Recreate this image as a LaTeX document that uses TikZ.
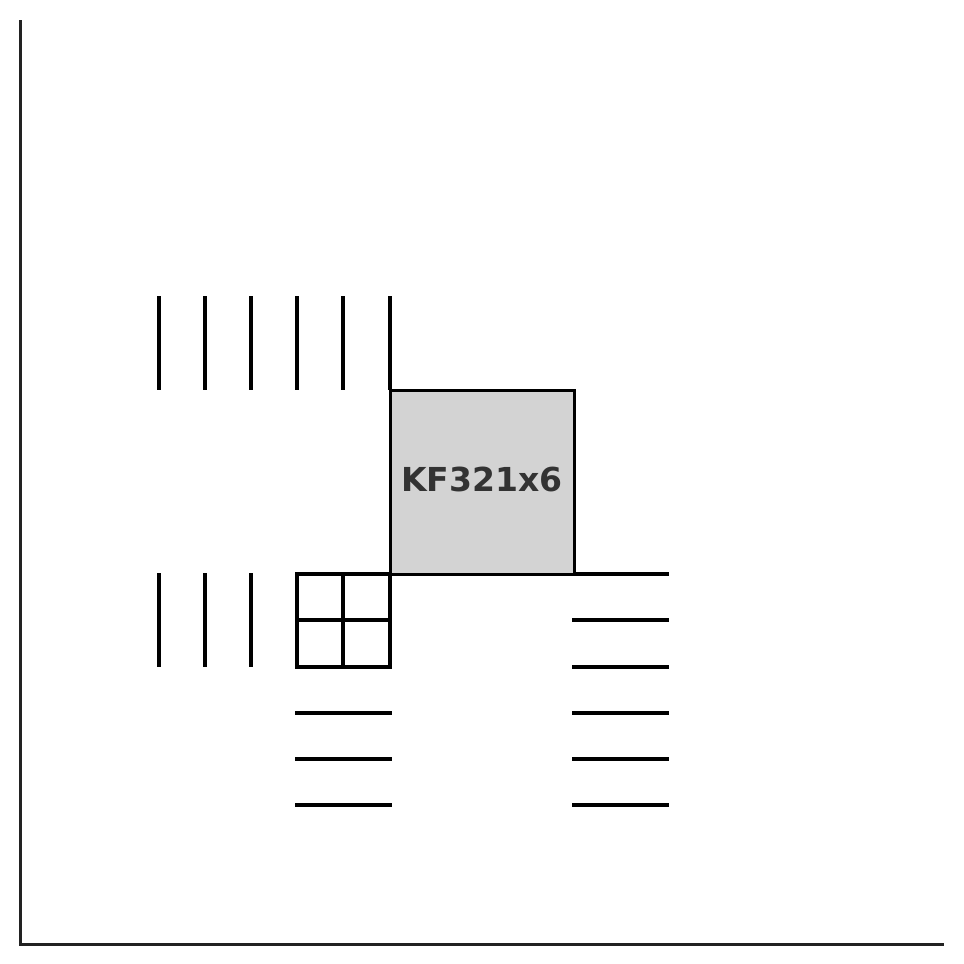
\documentclass[tikz,border=0pt]{standalone}
\usepackage{fontspec}
\setmainfont{DejaVu Sans}
\definecolor{axisgray}{HTML}{222222}
\definecolor{boxgray}{HTML}{D3D3D3}
\definecolor{textgray}{HTML}{333333}
\begin{document}
\begin{tikzpicture}[x=1pt,y=-1pt,
  bar/.style={line width=4.6pt,black},
  axisline/.style={line width=3pt,axisgray},
  chip/.style={draw=black,line width=3pt,fill=boxgray,minimum width=184pt,minimum height=184pt,inner sep=0pt},
  chiplabel/.style={inner sep=0pt,text=textgray,font=\bfseries\fontsize{33}{39}\selectfont}]
\useasboundingbox (0,0) rectangle (964,964);
% axes
\draw[axisline] (20,20) -- (20,944) -- (944,944);
% top vertical bars
\foreach \x in {159,205,251,297,343,390}
  \draw[bar] (\x,296) -- (\x,390);
% bottom-left vertical bars
\foreach \x in {159,205,251}
  \draw[bar] (\x,573) -- (\x,667);
% grid
\draw[bar] (297,574) rectangle (390,667);
\draw[bar] (343,574) -- (343,667);
\draw[bar] (297,620) -- (390,620);
% left horizontal bars
\foreach \y in {713,759,805}
  \draw[bar] (295,\y) -- (392,\y);
% right horizontal bars
\foreach \y in {574,620,667,713,759,805}
  \draw[bar] (572,\y) -- (669,\y);
% box
\node[chip] (kf) at (482,482) {};
\node[chiplabel] (kflabel) at (482,479) {KF321x6};
\end{tikzpicture}
\end{document}
